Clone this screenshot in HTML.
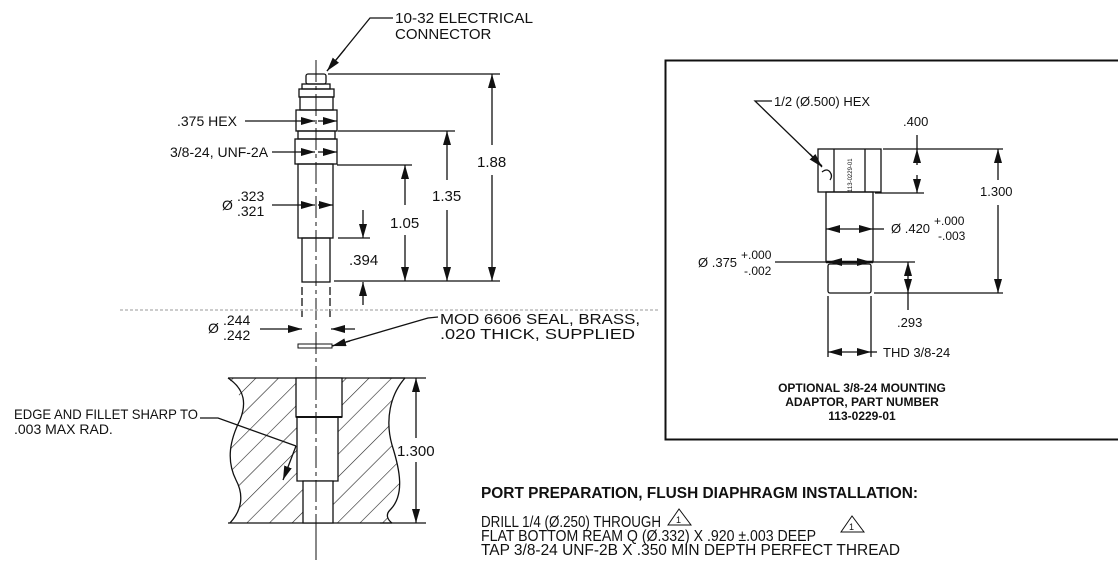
<!DOCTYPE html>
<html><head><style>
html,body{margin:0;padding:0;background:#fff;}
svg{display:block;}
text{font-family:"Liberation Sans",Arial,sans-serif;fill:#111;}
</style></head><body>
<svg width="1118" height="571" viewBox="0 0 1118 571" xmlns="http://www.w3.org/2000/svg">
<defs>
<marker id="b" viewBox="0 0 14 8" refX="14" refY="4" markerWidth="14" markerHeight="8" orient="auto-start-reverse" markerUnits="userSpaceOnUse"><path d="M0,0L14,4L0,8z" fill="#111"/></marker>
<pattern id="h" width="16" height="16" patternUnits="userSpaceOnUse" patternTransform="rotate(45)"><line x1="0" y1="0" x2="0" y2="16" stroke="#222" stroke-width="1.2"/></pattern>
<clipPath id="blk"><path d="M228,378 L405,378 C390,395 385,420 392,445 C400,470 405,495 390,510 C385,515 388,520 392,523 L230,523 C242,510 244,495 236,480 C226,460 230,440 240,420 C246,405 238,390 228,378 Z"/></clipPath>
</defs>
<g stroke="#111" stroke-width="1.3" fill="none">
<line x1="316" y1="60" x2="316" y2="560" stroke-dasharray="22,4,4,4" stroke-width="1"/>
<rect x="306" y="74" width="20" height="10" rx="2"/>
<rect x="302" y="84" width="28" height="5"/>
<rect x="299" y="89" width="35" height="8"/>
<rect x="300" y="97" width="33" height="13"/>
<rect x="296" y="110" width="41" height="21"/>
<rect x="298" y="131" width="37" height="8"/>
<rect x="295" y="139" width="42" height="25"/>
<rect x="298" y="164" width="35" height="74"/>
<rect x="302" y="238" width="28" height="44"/>
<line x1="302" y1="287" x2="302" y2="320" stroke-dasharray="8,3"/>
<line x1="330" y1="287" x2="330" y2="320" stroke-dasharray="8,3"/>
<line x1="245" y1="121" x2="315" y2="121" marker-end="url(#b)"/>
<line x1="318" y1="121" x2="337" y2="121" marker-end="url(#b)"/>
<line x1="272" y1="152" x2="315" y2="152" marker-end="url(#b)"/>
<line x1="318" y1="152" x2="337" y2="152" marker-end="url(#b)"/>
<line x1="272" y1="205" x2="315" y2="205" marker-end="url(#b)"/>
<line x1="318" y1="205" x2="333" y2="205" marker-end="url(#b)"/>
<polyline points="393,18 370,18 327,71" />
<line x1="345" y1="49" x2="327" y2="71" marker-end="url(#b)"/>
<line x1="328" y1="74" x2="500" y2="74"/>
<line x1="338" y1="131" x2="455" y2="131"/>
<line x1="337" y1="165" x2="412" y2="165"/>
<line x1="338" y1="238" x2="370" y2="238"/>
<line x1="334" y1="281" x2="500" y2="281"/>
<line x1="492" y1="145" x2="492" y2="74" marker-end="url(#b)"/>
<line x1="492" y1="175" x2="492" y2="281" marker-end="url(#b)"/>
<line x1="447" y1="180" x2="447" y2="131" marker-end="url(#b)"/>
<line x1="447" y1="210" x2="447" y2="281" marker-end="url(#b)"/>
<line x1="405" y1="205" x2="405" y2="165" marker-end="url(#b)"/>
<line x1="405" y1="235" x2="405" y2="281" marker-end="url(#b)"/>
<line x1="363" y1="210" x2="363" y2="238" marker-end="url(#b)"/>
<line x1="363" y1="305" x2="363" y2="282" marker-end="url(#b)"/>
<line x1="260" y1="329" x2="302" y2="329" marker-end="url(#b)"/>
<line x1="355" y1="329" x2="331" y2="329" marker-end="url(#b)"/>
<rect x="298" y="344" width="34" height="4" stroke-width="1"/>
<polyline points="438,317 428,318 332,346"/>
<line x1="350" y1="341" x2="332" y2="346" marker-end="url(#b)"/>
<rect x="220" y="370" width="200" height="160" fill="url(#h)" stroke="none" clip-path="url(#blk)"/>
<path d="M228,378 C246,390 246,405 240,420 C230,440 226,460 236,480 C244,495 242,510 230,523"/>
<path d="M405,378 C390,395 385,420 392,445 C400,470 405,495 390,510 C385,515 388,520 392,523"/>
<line x1="228" y1="378" x2="405" y2="378"/>
<line x1="228" y1="523" x2="392" y2="523"/>
<path d="M296,378 L296,417 L342,417 L342,378 Z" fill="#fff"/>
<path d="M297,417 L297,481 L338,481 L338,417 Z" fill="#fff"/>
<path d="M303,481 L303,523 L333,523 L333,481 Z" fill="#fff"/>
<line x1="296" y1="417" x2="342" y2="417" stroke-width="2"/>
<line x1="316" y1="378" x2="316" y2="560" stroke-dasharray="22,4,4,4" stroke-width="1"/>
<polyline points="200,418 218,418 296,446"/>
<line x1="296" y1="446" x2="283" y2="480" marker-end="url(#b)"/>
<line x1="380" y1="378" x2="426" y2="378"/>
<line x1="380" y1="523" x2="426" y2="523"/>
<line x1="416" y1="438" x2="416" y2="378" marker-end="url(#b)"/>
<line x1="416" y1="462" x2="416" y2="523" marker-end="url(#b)"/>
<rect x="665.5" y="60.5" width="460" height="379" stroke-width="2"/>
<rect x="818" y="149" width="63" height="43"/>
<line x1="834" y1="149" x2="834" y2="192"/>
<line x1="865" y1="149" x2="865" y2="192"/>
<path d="M822,172 q5,-4 8,0 q3,4 0,8" />
<rect x="826" y="192" width="47" height="70"/>
<rect x="828" y="264" width="43" height="29" rx="2"/>
<line x1="826" y1="262" x2="873" y2="262" stroke-width="2.5"/>
<polyline points="772,101 755,101 822,166"/>
<line x1="810" y1="154" x2="822" y2="167" marker-end="url(#b)"/>
<line x1="883" y1="149" x2="1003" y2="149"/>
<line x1="875" y1="193" x2="924" y2="193"/>
<line x1="917" y1="135" x2="917" y2="149"/>
<line x1="917" y1="165" x2="917" y2="149" marker-end="url(#b)"/>
<line x1="917" y1="175" x2="917" y2="193" marker-end="url(#b)"/>
<line x1="998" y1="180" x2="998" y2="149" marker-end="url(#b)"/>
<line x1="998" y1="205" x2="998" y2="293" marker-end="url(#b)"/>
<line x1="874" y1="293" x2="1003" y2="293"/>
<line x1="873" y1="262" x2="915" y2="262"/>
<line x1="850" y1="229" x2="826" y2="229" marker-end="url(#b)"/>
<line x1="850" y1="229" x2="873" y2="229" marker-end="url(#b)"/>
<line x1="873" y1="229" x2="884" y2="229"/>
<line x1="775" y1="262" x2="850" y2="262"/>
<line x1="850" y1="262" x2="828" y2="262" marker-end="url(#b)"/>
<line x1="850" y1="262" x2="871" y2="262" marker-end="url(#b)"/>
<line x1="908" y1="275" x2="908" y2="262" marker-end="url(#b)"/>
<line x1="908" y1="275" x2="908" y2="293" marker-end="url(#b)"/>
<line x1="908" y1="293" x2="908" y2="310"/>
<line x1="828" y1="296" x2="828" y2="357"/>
<line x1="871" y1="296" x2="871" y2="357"/>
<line x1="850" y1="352" x2="828" y2="352" marker-end="url(#b)"/>
<line x1="850" y1="352" x2="871" y2="352" marker-end="url(#b)"/>
<line x1="871" y1="352" x2="877" y2="352"/>
<path d="M679,509 L668,525 L691,525 Z" stroke-width="1"/>
<path d="M852,516 L841,532 L864,532 Z" stroke-width="1"/>
</g>
<line x1="120" y1="310" x2="660" y2="310" stroke="#bbb" stroke-width="1.5" stroke-dasharray="3,2"/>
<g font-size="15">
<text x="395" y="23" textLength="138" lengthAdjust="spacingAndGlyphs">10-32 ELECTRICAL</text>
<text x="395" y="39">CONNECTOR</text>
<text x="177" y="126" font-size="14">.375 HEX</text>
<text x="170" y="157" font-size="14">3/8-24, UNF-2A</text>
<text x="222" y="210" font-size="14">Ø</text>
<text x="237" y="201" font-size="14">.323</text>
<text x="237" y="216" font-size="14">.321</text>
<text x="477" y="167">1.88</text>
<text x="432" y="201">1.35</text>
<text x="390" y="228">1.05</text>
<text x="349" y="265">.394</text>
<text x="208" y="333" font-size="14">Ø</text>
<text x="223" y="325" font-size="14">.244</text>
<text x="223" y="340" font-size="14">.242</text>
<text x="440" y="324" textLength="200" lengthAdjust="spacingAndGlyphs">MOD 6606 SEAL, BRASS,</text>
<text x="440" y="339" textLength="195" lengthAdjust="spacingAndGlyphs">.020 THICK, SUPPLIED</text>
<text x="14" y="419" font-size="14" textLength="184" lengthAdjust="spacingAndGlyphs">EDGE AND FILLET SHARP TO</text>
<text x="14" y="434" font-size="14">.003 MAX RAD.</text>
<text x="397" y="456">1.300</text>
<text x="481" y="498" font-weight="bold" font-size="15.5" textLength="437" lengthAdjust="spacingAndGlyphs">PORT PREPARATION, FLUSH DIAPHRAGM INSTALLATION:</text>
<g font-size="15.6">
<text x="481" y="527" textLength="180" lengthAdjust="spacingAndGlyphs">DRILL 1/4 (Ø.250) THROUGH</text>
<text x="481" y="541" textLength="335" lengthAdjust="spacingAndGlyphs">FLAT BOTTOM REAM Q (Ø.332) X .920 ±.003 DEEP</text>
<text x="481" y="555" textLength="419" lengthAdjust="spacingAndGlyphs">TAP 3/8-24 UNF-2B X .350 MIN DEPTH PERFECT THREAD</text>
</g>
<text x="676" y="523" font-size="9">1</text>
<text x="849" y="530" font-size="9">1</text>
<text x="774" y="106" font-size="13">1/2 (Ø.500) HEX</text>
<text x="903" y="126" font-size="13">.400</text>
<text x="980" y="196" font-size="13">1.300</text>
<text x="891" y="233" font-size="13">Ø .420</text>
<text x="934" y="225" font-size="12">+.000</text>
<text x="938" y="240" font-size="12">-.003</text>
<text x="698" y="267" font-size="13">Ø .375</text>
<text x="741" y="259" font-size="12">+.000</text>
<text x="744" y="275" font-size="12">-.002</text>
<text x="897" y="327" font-size="13">.293</text>
<text x="883" y="357" font-size="13">THD 3/8-24</text>
<text x="862" y="392" font-size="12" font-weight="bold" text-anchor="middle">OPTIONAL 3/8-24 MOUNTING</text>
<text x="862" y="406" font-size="12" font-weight="bold" text-anchor="middle">ADAPTOR, PART NUMBER</text>
<text x="862" y="420" font-size="12" font-weight="bold" text-anchor="middle">113-0229-01</text>
<text x="0" y="0" font-size="6" transform="translate(852,192) rotate(-90)">113-0229-01</text>
</g>
</svg>
</body></html>
